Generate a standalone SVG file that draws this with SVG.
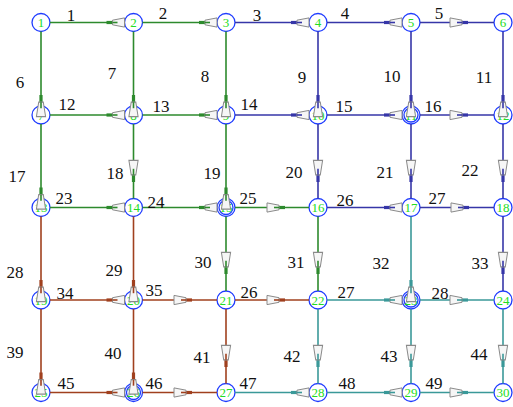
<svg xmlns="http://www.w3.org/2000/svg" xmlns:xlink="http://www.w3.org/1999/xlink" width="513" height="407" viewBox="0 0 513 407">
<style>
.g{color:#2d8a2d}.b{color:#3636a8}.r{color:#a0401e}.t{color:#3a9999}
line{stroke:currentColor;stroke-width:1.6}
.n circle{fill:#fff;stroke:#1f3cff;stroke-width:1.3}
.n text{font-family:"Liberation Serif",serif;font-size:13px;fill:#22dd22;text-anchor:middle}
.lab text{font-family:"Liberation Serif",serif;font-size:17px;fill:#111;text-anchor:middle}
</style>
<defs>
<g id="ah">
<rect x="0" y="-1.6" width="7" height="3.2" fill="currentColor"/>
<polygon points="6,-2.3 18,-4.6 18,4.6 6,2.3" fill="#f6f6f6" stroke="#8a8a8a" stroke-width="1"/>
<line x1="6" y1="0" x2="11" y2="0" stroke="#777" stroke-width="1"/>
</g>
</defs>
<rect width="513" height="407" fill="#fff"/>
<g id="nodes" class="n">
<g id="node1"><circle cx="41" cy="22.5" r="9"/><text x="41" y="27">1</text></g>
<g id="node2"><circle cx="133.5" cy="22.5" r="9"/><text x="133.5" y="27">2</text></g>
<g id="node3"><circle cx="226" cy="22.5" r="9"/><text x="226" y="27">3</text></g>
<g id="node4"><circle cx="318" cy="22.5" r="9"/><text x="318" y="27">4</text></g>
<g id="node5"><circle cx="411" cy="22.5" r="9"/><text x="411" y="27">5</text></g>
<g id="node6"><circle cx="503" cy="22.5" r="9"/><text x="503" y="27">6</text></g>
<g id="node7"><circle cx="41" cy="115" r="9"/><text x="41" y="119.5">7</text></g>
<g id="node8"><circle cx="133.5" cy="115" r="9"/><text x="133.5" y="119.5">8</text></g>
<g id="node9"><circle cx="226" cy="115" r="9"/><text x="226" y="119.5">9</text></g>
<g id="node10"><circle cx="318" cy="115" r="9"/><text x="318" y="119.5">10</text></g>
<g id="node11"><circle cx="411" cy="115" r="9"/><circle cx="411" cy="115" r="7"/><text x="411" y="119.5">11</text></g>
<g id="node12"><circle cx="503" cy="115" r="9"/><text x="503" y="119.5">12</text></g>
<g id="node13"><circle cx="41" cy="207.5" r="9"/><text x="41" y="212">13</text></g>
<g id="node14"><circle cx="133.5" cy="207.5" r="9"/><text x="133.5" y="212">14</text></g>
<g id="node15"><circle cx="226" cy="207.5" r="9"/><circle cx="226" cy="207.5" r="7"/><text x="226" y="212">15</text></g>
<g id="node16"><circle cx="318" cy="207.5" r="9"/><text x="318" y="212">16</text></g>
<g id="node17"><circle cx="411" cy="207.5" r="9"/><text x="411" y="212">17</text></g>
<g id="node18"><circle cx="503" cy="207.5" r="9"/><text x="503" y="212">18</text></g>
<g id="node19"><circle cx="41" cy="300" r="9"/><text x="41" y="304.5">19</text></g>
<g id="node20"><circle cx="133.5" cy="300" r="9"/><text x="133.5" y="304.5">20</text></g>
<g id="node21"><circle cx="226" cy="300" r="9"/><text x="226" y="304.5">21</text></g>
<g id="node22"><circle cx="318" cy="300" r="9"/><text x="318" y="304.5">22</text></g>
<g id="node23"><circle cx="411" cy="300" r="9"/><circle cx="411" cy="300" r="7"/><text x="411" y="304.5">23</text></g>
<g id="node24"><circle cx="503" cy="300" r="9"/><text x="503" y="304.5">24</text></g>
<g id="node25"><circle cx="41" cy="392.5" r="9"/><text x="41" y="397">25</text></g>
<g id="node26"><circle cx="133.5" cy="392.5" r="9"/><circle cx="133.5" cy="392.5" r="7"/><text x="133.5" y="397">26</text></g>
<g id="node27"><circle cx="226" cy="392.5" r="9"/><text x="226" y="397">27</text></g>
<g id="node28"><circle cx="318" cy="392.5" r="9"/><text x="318" y="397">28</text></g>
<g id="node29"><circle cx="411" cy="392.5" r="9"/><text x="411" y="397">29</text></g>
<g id="node30"><circle cx="503" cy="392.5" r="9"/><text x="503" y="397">30</text></g>
</g>
<g id="connectors">
<g class="g"><line x1="50" y1="22.5" x2="124.5" y2="22.5"/><use xlink:href="#ah" transform="translate(106.5,22.5)"/></g>
<g class="g"><line x1="142.5" y1="22.5" x2="217" y2="22.5"/><use xlink:href="#ah" transform="translate(199,22.5)"/></g>
<g class="b"><line x1="235" y1="22.5" x2="309" y2="22.5"/><use xlink:href="#ah" transform="translate(291,22.5)"/></g>
<g class="b"><line x1="327" y1="22.5" x2="402" y2="22.5"/><use xlink:href="#ah" transform="translate(384,22.5)"/></g>
<g class="b"><line x1="420" y1="22.5" x2="494" y2="22.5"/><use xlink:href="#ah" transform="translate(468,22.5) rotate(180)"/></g>
<g class="g"><line x1="41" y1="31.5" x2="41" y2="106"/><use xlink:href="#ah" transform="translate(41,95) rotate(90) scale(1.2,1)"/></g>
<g class="g"><line x1="133.5" y1="31.5" x2="133.5" y2="106"/><use xlink:href="#ah" transform="translate(133.5,95) rotate(90) scale(1.2,1)"/></g>
<g class="g"><line x1="226" y1="31.5" x2="226" y2="106"/><use xlink:href="#ah" transform="translate(226,95) rotate(90) scale(1.2,1)"/></g>
<g class="b"><line x1="318" y1="31.5" x2="318" y2="106"/><use xlink:href="#ah" transform="translate(318,95) rotate(90) scale(1.2,1)"/></g>
<g class="b"><line x1="411" y1="31.5" x2="411" y2="106"/><use xlink:href="#ah" transform="translate(411,95) rotate(90) scale(1.2,1)"/></g>
<g class="b"><line x1="503" y1="31.5" x2="503" y2="106"/><use xlink:href="#ah" transform="translate(503,95) rotate(90) scale(1.2,1)"/></g>
<g class="g"><line x1="50" y1="115" x2="124.5" y2="115"/><use xlink:href="#ah" transform="translate(106.5,115)"/></g>
<g class="g"><line x1="142.5" y1="115" x2="217" y2="115"/><use xlink:href="#ah" transform="translate(199,115)"/></g>
<g class="b"><line x1="235" y1="115" x2="309" y2="115"/><use xlink:href="#ah" transform="translate(291,115)"/></g>
<g class="b"><line x1="327" y1="115" x2="402" y2="115"/><use xlink:href="#ah" transform="translate(384,115)"/></g>
<g class="b"><line x1="420" y1="115" x2="494" y2="115"/><use xlink:href="#ah" transform="translate(468,115) rotate(180)"/></g>
<g class="g"><line x1="41" y1="124" x2="41" y2="198.5"/><use xlink:href="#ah" transform="translate(41,187.5) rotate(90) scale(1.2,1)"/></g>
<g class="g"><line x1="133.5" y1="124" x2="133.5" y2="198.5"/><use xlink:href="#ah" transform="translate(133.5,182) rotate(-90) scale(1.2,1)"/></g>
<g class="g"><line x1="226" y1="124" x2="226" y2="198.5"/><use xlink:href="#ah" transform="translate(226,187.5) rotate(90) scale(1.2,1)"/></g>
<g class="b"><line x1="318" y1="124" x2="318" y2="198.5"/><use xlink:href="#ah" transform="translate(318,182) rotate(-90) scale(1.2,1)"/></g>
<g class="b"><line x1="411" y1="124" x2="411" y2="198.5"/><use xlink:href="#ah" transform="translate(411,182) rotate(-90) scale(1.2,1)"/></g>
<g class="b"><line x1="503" y1="124" x2="503" y2="198.5"/><use xlink:href="#ah" transform="translate(503,182) rotate(-90) scale(1.2,1)"/></g>
<g class="g"><line x1="50" y1="207.5" x2="124.5" y2="207.5"/><use xlink:href="#ah" transform="translate(106.5,207.5)"/></g>
<g class="g"><line x1="142.5" y1="207.5" x2="217" y2="207.5"/><use xlink:href="#ah" transform="translate(199,207.5)"/></g>
<g class="g"><line x1="235" y1="207.5" x2="309" y2="207.5"/><use xlink:href="#ah" transform="translate(285,207.5) rotate(180)"/></g>
<g class="b"><line x1="327" y1="207.5" x2="402" y2="207.5"/><use xlink:href="#ah" transform="translate(384,207.5)"/></g>
<g class="b"><line x1="420" y1="207.5" x2="494" y2="207.5"/><use xlink:href="#ah" transform="translate(469,207.5) rotate(180)"/></g>
<g class="r"><line x1="41" y1="216.5" x2="41" y2="291"/><use xlink:href="#ah" transform="translate(41,280) rotate(90) scale(1.2,1)"/></g>
<g class="r"><line x1="133.5" y1="216.5" x2="133.5" y2="291"/><use xlink:href="#ah" transform="translate(133.5,280) rotate(90) scale(1.2,1)"/></g>
<g class="g"><line x1="226" y1="216.5" x2="226" y2="291"/><use xlink:href="#ah" transform="translate(226,274) rotate(-90) scale(1.2,1)"/></g>
<g class="g"><line x1="318" y1="216.5" x2="318" y2="291"/><use xlink:href="#ah" transform="translate(318,274) rotate(-90) scale(1.2,1)"/></g>
<g class="t"><line x1="411" y1="216.5" x2="411" y2="291"/><use xlink:href="#ah" transform="translate(411,280) rotate(90) scale(1.2,1)"/></g>
<g class="b"><line x1="503" y1="216.5" x2="503" y2="291"/><use xlink:href="#ah" transform="translate(503,274) rotate(-90) scale(1.2,1)"/></g>
<g class="r"><line x1="50" y1="300" x2="124.5" y2="300"/><use xlink:href="#ah" transform="translate(106.5,300)"/></g>
<g class="r"><line x1="142.5" y1="300" x2="217" y2="300"/><use xlink:href="#ah" transform="translate(192,300) rotate(180)"/></g>
<g class="r"><line x1="235" y1="300" x2="309" y2="300"/><use xlink:href="#ah" transform="translate(285,300) rotate(180)"/></g>
<g class="t"><line x1="327" y1="300" x2="402" y2="300"/><use xlink:href="#ah" transform="translate(384,300)"/></g>
<g class="t"><line x1="420" y1="300" x2="494" y2="300"/><use xlink:href="#ah" transform="translate(468,300) rotate(180)"/></g>
<g class="r"><line x1="41" y1="309" x2="41" y2="383.5"/><use xlink:href="#ah" transform="translate(41,372.5) rotate(90) scale(1.2,1)"/></g>
<g class="r"><line x1="133.5" y1="309" x2="133.5" y2="383.5"/><use xlink:href="#ah" transform="translate(133.5,372.5) rotate(90) scale(1.2,1)"/></g>
<g class="r"><line x1="226" y1="309" x2="226" y2="383.5"/><use xlink:href="#ah" transform="translate(226,367) rotate(-90) scale(1.2,1)"/></g>
<g class="t"><line x1="318" y1="309" x2="318" y2="383.5"/><use xlink:href="#ah" transform="translate(318,367) rotate(-90) scale(1.2,1)"/></g>
<g class="t"><line x1="411" y1="309" x2="411" y2="383.5"/><use xlink:href="#ah" transform="translate(411,367) rotate(-90) scale(1.2,1)"/></g>
<g class="t"><line x1="503" y1="309" x2="503" y2="383.5"/><use xlink:href="#ah" transform="translate(503,367) rotate(-90) scale(1.2,1)"/></g>
<g class="r"><line x1="50" y1="392.5" x2="124.5" y2="392.5"/><use xlink:href="#ah" transform="translate(106.5,392.5)"/></g>
<g class="r"><line x1="142.5" y1="392.5" x2="217" y2="392.5"/><use xlink:href="#ah" transform="translate(192,392.5) rotate(180)"/></g>
<g class="t"><line x1="235" y1="392.5" x2="309" y2="392.5"/><use xlink:href="#ah" transform="translate(291,392.5)"/></g>
<g class="t"><line x1="327" y1="392.5" x2="402" y2="392.5"/><use xlink:href="#ah" transform="translate(384,392.5)"/></g>
<g class="t"><line x1="420" y1="392.5" x2="494" y2="392.5"/><use xlink:href="#ah" transform="translate(468,392.5) rotate(180)"/></g>
</g>
<g id="labels" class="lab">
<text x="71" y="20.5">1</text><text x="163" y="19">2</text><text x="257" y="20.5">3</text><text x="345" y="19">4</text><text x="439" y="18.5">5</text>
<text x="20" y="88">6</text><text x="112" y="79">7</text><text x="205" y="82">8</text><text x="302" y="83">9</text><text x="392" y="82">10</text><text x="484" y="83">11</text>
<text x="67" y="110">12</text><text x="161" y="112">13</text><text x="249" y="110">14</text><text x="344" y="112">15</text><text x="433" y="112">16</text>
<text x="17" y="181.5">17</text><text x="115" y="179">18</text><text x="212" y="179">19</text><text x="294" y="177.5">20</text><text x="385" y="177.5">21</text><text x="470" y="176">22</text>
<text x="64" y="204">23</text><text x="156" y="207.5">24</text><text x="248" y="204">25</text><text x="345" y="206">26</text><text x="437" y="204">27</text>
<text x="15" y="277.5">28</text><text x="114" y="276">29</text><text x="203" y="267.5">30</text><text x="296" y="267.5">31</text><text x="381" y="269">32</text><text x="480" y="269">33</text>
<text x="65" y="299">34</text><text x="154" y="296">35</text><text x="249" y="297.5">26</text><text x="346" y="297.5">27</text><text x="440" y="299">28</text>
<text x="15" y="357.5">39</text><text x="113" y="359">40</text><text x="202" y="363">41</text><text x="292" y="362">42</text><text x="389" y="361.5">43</text><text x="479" y="360">44</text>
<text x="66" y="389">45</text><text x="154" y="389">46</text><text x="248" y="389">47</text><text x="347" y="389">48</text><text x="434" y="389">49</text>
</g>
</svg>
